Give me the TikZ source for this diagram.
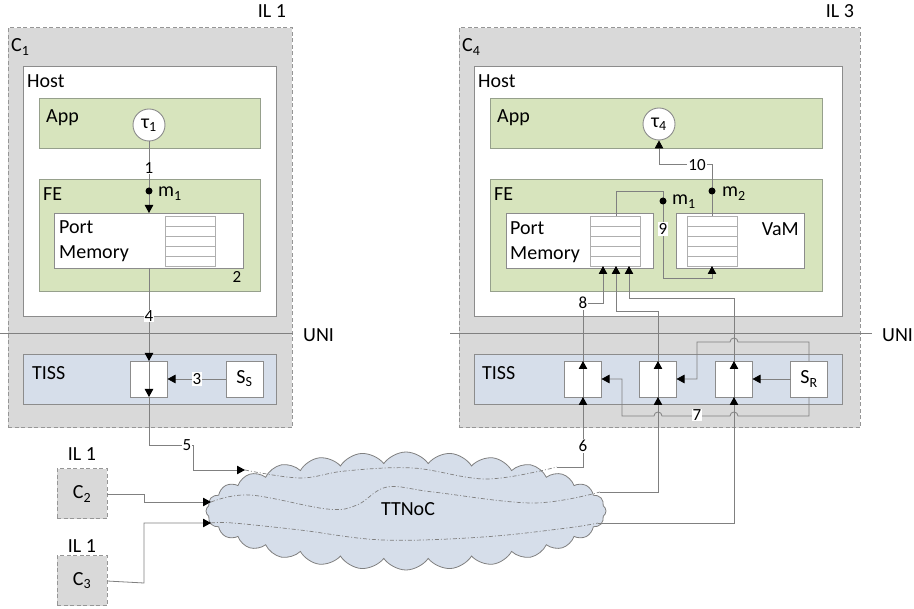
\documentclass[tikz,border=0pt]{standalone}
\usepackage{fontspec}
\setmainfont{Carlito}
\usetikzlibrary{arrows.meta,shapes.symbols,calc}

\definecolor{compgray}{RGB}{217,217,217}
\definecolor{compedge}{RGB}{150,150,150}
\definecolor{boxedge}{RGB}{140,140,140}
\definecolor{greenedge}{RGB}{150,160,140}
\definecolor{appgreen}{RGB}{215,228,189}
\definecolor{tissblue}{RGB}{214,222,234}
\definecolor{wire}{RGB}{128,128,128}
\definecolor{qedge}{RGB}{175,175,175}

\begin{document}
\begin{tikzpicture}[x=1pt,y=-1pt,
  every node/.style={font=\fontsize{20}{24}\selectfont},
  sized/.style 2 args={minimum width=#1pt, minimum height=#2pt, inner sep=0pt, outer sep=0pt},
  comp/.style={draw=compedge, fill=compgray, dash pattern=on 4pt off 2.5pt, line width=1pt},
  hostbox/.style={draw=boxedge, fill=white, line width=0.9pt},
  greenbox/.style={draw=greenedge, fill=appgreen, line width=0.9pt},
  tissbox/.style={draw=boxedge, fill=tissblue, line width=0.9pt},
  cell/.style={draw=boxedge, fill=white, line width=0.9pt, sized={37}{36}},
  qbox/.style={draw=qedge, fill=white, line width=0.9pt, sized={50}{50}},
  qline/.style={draw=qedge, line width=0.9pt},
  task/.style={circle, draw=boxedge, fill=white, minimum size=32pt, inner sep=0pt, line width=0.9pt},
  wire/.style={draw=wire, line width=0.8pt},
  arr/.style={-{Triangle[length=8pt,width=8.5pt,color=black]}},
  dot/.style={circle, fill=black, minimum size=7pt, inner sep=0pt},
  num/.style={fill=white, inner sep=1pt, font=\fontsize{17}{19}\selectfont},
  lbl/.style={anchor=base west, inner sep=0pt},
  ctr/.style={anchor=base, inner sep=0pt},
  netpath/.style={draw=wire, line width=0.7pt, dash pattern=on 4pt off 2pt on 1pt off 2pt},
]
\useasboundingbox (0,0) rectangle (914,609);

% ---------- sending component C1 ----------
\node[comp, sized={284}{400}] (c1) at (150,228) {};
\node[lbl] (c1name) at (11,52) {C\textsubscript{1}};
\node[ctr] (il1a) at (272,18) {IL 1};
\node[hostbox, sized={253}{250}] (host1) at (149.5,191) {};
\node[lbl] (host1name) at (27,88) {Host};
\node[greenbox, sized={221}{50}] (app1) at (149.5,123) {};
\node[lbl] (app1name) at (46,123) {App};
\node[task] (tau1) at (149,125) {τ\textsubscript{1}};
\node[greenbox, sized={221}{112}] (fe1) at (149.5,235) {};
\node[lbl] (fe1name) at (43,201) {FE};
\node[hostbox, sized={189}{55}] (pm1) at (149,240.5) {};
\node[lbl] (pm1a) at (59,234) {Port};
\node[lbl] (pm1b) at (59,259) {Memory};
\node[qbox] (q1) at (190,241) {};
\foreach \k in {1,2,3,4}
  \draw[qline] ($(q1.north west)!\k/5!(q1.south west)$) -- ($(q1.north east)!\k/5!(q1.south east)$);
\node[num, fill=none] (n2) at (237,277) {2};
\node[tissbox, sized={253}{50}] (tiss1) at (149.5,379) {};
\node[lbl] (tiss1name) at (32,380) {TISS};
\node[cell] (tx1) at (149,379) {};
\node[cell] (ss) at (244.5,379) {S\textsubscript{S}};

% ---------- further senders ----------
\node[comp, sized={50}{50}] (c2) at (82,494) {C\textsubscript{2}};
\node[ctr] (il1b) at (82,461) {IL 1};
\node[comp, sized={50}{50}] (c3) at (82,581) {C\textsubscript{3}};
\node[ctr] (il1c) at (82,553) {IL 1};

% ---------- receiving component C4 ----------
\node[comp, sized={401}{400}] (c4) at (659.5,228) {};
\node[lbl] (c4name) at (462,52) {C\textsubscript{4}};
\node[ctr] (il3) at (840,18) {IL 3};
\node[hostbox, sized={368}{250}] (host4) at (658,191) {};
\node[lbl] (host4name) at (478,88) {Host};
\node[greenbox, sized={332}{50}] (app4) at (656,123) {};
\node[lbl] (app4name) at (497,123) {App};
\node[task] (tau4) at (659,124) {τ\textsubscript{4}};
\node[greenbox, sized={332}{112}] (fe4) at (656,235) {};
\node[lbl] (fe4name) at (494,201) {FE};
\node[hostbox, sized={147}{55}] (pm4) at (579.5,240.5) {};
\node[lbl] (pm4a) at (510,235) {Port};
\node[lbl] (pm4b) at (510,260) {Memory};
\node[qbox] (q4) at (615,241) {};
\foreach \k in {1,2,3,4}
  \draw[qline] ($(q4.north west)!\k/5!(q4.south west)$) -- ($(q4.north east)!\k/5!(q4.south east)$);
\node[hostbox, sized={128}{55}] (vam) at (740,240.5) {};
\node[anchor=base east, inner sep=0pt] (vamname) at (799,236) {VaM};
\node[qbox] (qv) at (712,241) {};
\foreach \k in {1,2,3,4}
  \draw[qline] ($(qv.north west)!\k/5!(qv.south west)$) -- ($(qv.north east)!\k/5!(qv.south east)$);
\node[tissbox, sized={368}{50}] (tiss4) at (658,379) {};
\node[lbl] (tiss4name) at (482,380) {TISS};
\node[cell] (rx1) at (583,379) {};
\node[cell] (rx2) at (658,379) {};
\node[cell] (rx3) at (734,379) {};
\node[cell] (sr) at (809,379) {S\textsubscript{R}};

% ---------- UNI boundary ----------
\coordinate (uniLa) at (0,333);
\coordinate (uniLb) at (293,333);
\coordinate (uniRa) at (450,333);
\coordinate (uniRb) at (872,333);
\draw[wire] (uniLa) -- (uniLb);
\draw[wire] (uniRa) -- (uniRb);
\node[lbl] (uni1) at (303,342) {UNI};
\node[lbl] (uni2) at (882,342) {UNI};

% ---------- TTNoC ----------
\node[cloud, draw=wire, fill=tissblue, cloud puffs=28, cloud puff arc=110,
      minimum width=400pt, minimum height=118pt, inner sep=0pt, line width=0.8pt] (noc) at (406,511) {};
\node (noclabel) at (408,509) {TTNoC};
\coordinate (inA) at (245,470);
\coordinate (inB) at (211,502);
\coordinate (inC) at (211,523);
\coordinate (outA) at (557,467);
\coordinate (outB) at (600,492);
\coordinate (outC) at (598,523);
\draw[netpath] plot[smooth, tension=0.6] coordinates
  {(inA) (300,478) (345,471) (413,468) (487,479) (outA)};
\draw[netpath] plot[smooth, tension=0.6] coordinates
  {(inB) (250,495) (327,509) (357,505) (387,487) (433,492) (533,503) (outB)};
\draw[netpath] plot[smooth, tension=0.6] coordinates
  {(inC) (233,523) (300,530) (383,540) (483,537) (567,528) (outC)};

% ---------- sender side connectors ----------
\draw[wire, arr] (tau1.south) -- (tau1.south |- pm1.north);
\node[dot] (m1a) at (149,191) {};
\node[lbl] (m1alabel) at (158,197) {m\textsubscript{1}};
\draw[wire, arr] (pm1.south) -- (tx1.north);
\draw[wire, arr] (tx1.north) -- (tx1.south);
\draw[wire, arr] (ss.west) -- (tx1.east);
\draw[wire, arr] (tx1.south) |- (193,445) |- (inA);
\draw[wire, arr] (c2.east) -- (144,494) |- (inB);
\draw[wire, arr] (c3.east) -- (144,583) |- (inC);
\node[num] (n1) at (149,168) {1};
\node[num] (n4) at (149,316) {4};
\node[num] (n3) at (197,379) {3};
\node[num] (n5) at (187,445) {5};

% ---------- receiver side connectors ----------
\draw[wire, arr] (outA) -| (rx1.south);
\draw[wire, arr] (outB) -| (rx2.south);
\draw[wire, arr] (outC) -| (rx3.south);
\draw[wire, arr] (rx1.south) -- (rx1.north);
\draw[wire, arr] (rx2.south) -- (rx2.north);
\draw[wire, arr] (rx3.south) -- (rx3.north);
\draw[wire, arr] (rx1.north) -- (583,303) -- (603,303) -- ($(q4.south)+(-12,0)$);
\draw[wire, arr] (rx2.north) -- (658,311) -- (616,311) -- ($(q4.south)+(1,0)$);
\draw[wire, arr] (rx3.north) -- (734,298) -- (629,298) -- ($(q4.south)+(14,0)$);
\draw[wire, arr] (sr.west) -- (rx3.east);
\draw[wire, arr] (sr.north) -- (809,342) -- (738,342)
  arc[start angle=0, end angle=-180, radius=4] -- (697,342) -- (697,379) -- (rx2.east);
\draw[wire, arr] (sr.south) -- (809,416) -- (738,416)
  arc[start angle=0, end angle=-180, radius=4] -- (662,416)
  arc[start angle=0, end angle=-180, radius=4] -- (622,416) -- (622,379) -- (rx1.east);
\draw[wire, arr] ($(q4.north)+(1,0)$) -- (616,191) -- (663,191) -- (663,278) -- (712,278) -- (qv.south);
\draw[wire, arr] (qv.north) -- (712,164) -- (659,164) -- (tau4.south);
\node[dot] (m1b) at (663,201) {};
\node[lbl] (m1blabel) at (672,205) {m\textsubscript{1}};
\node[dot] (m2) at (712,191) {};
\node[lbl] (m2label) at (722,197) {m\textsubscript{2}};
\node[num] (n6) at (583,446) {6};
\node[num] (n7) at (697,415) {7};
\node[num] (n8) at (583,303) {8};
\node[num] (n9) at (663,229) {9};
\node[num] (n10) at (697,165) {10};
\end{tikzpicture}
\end{document}
